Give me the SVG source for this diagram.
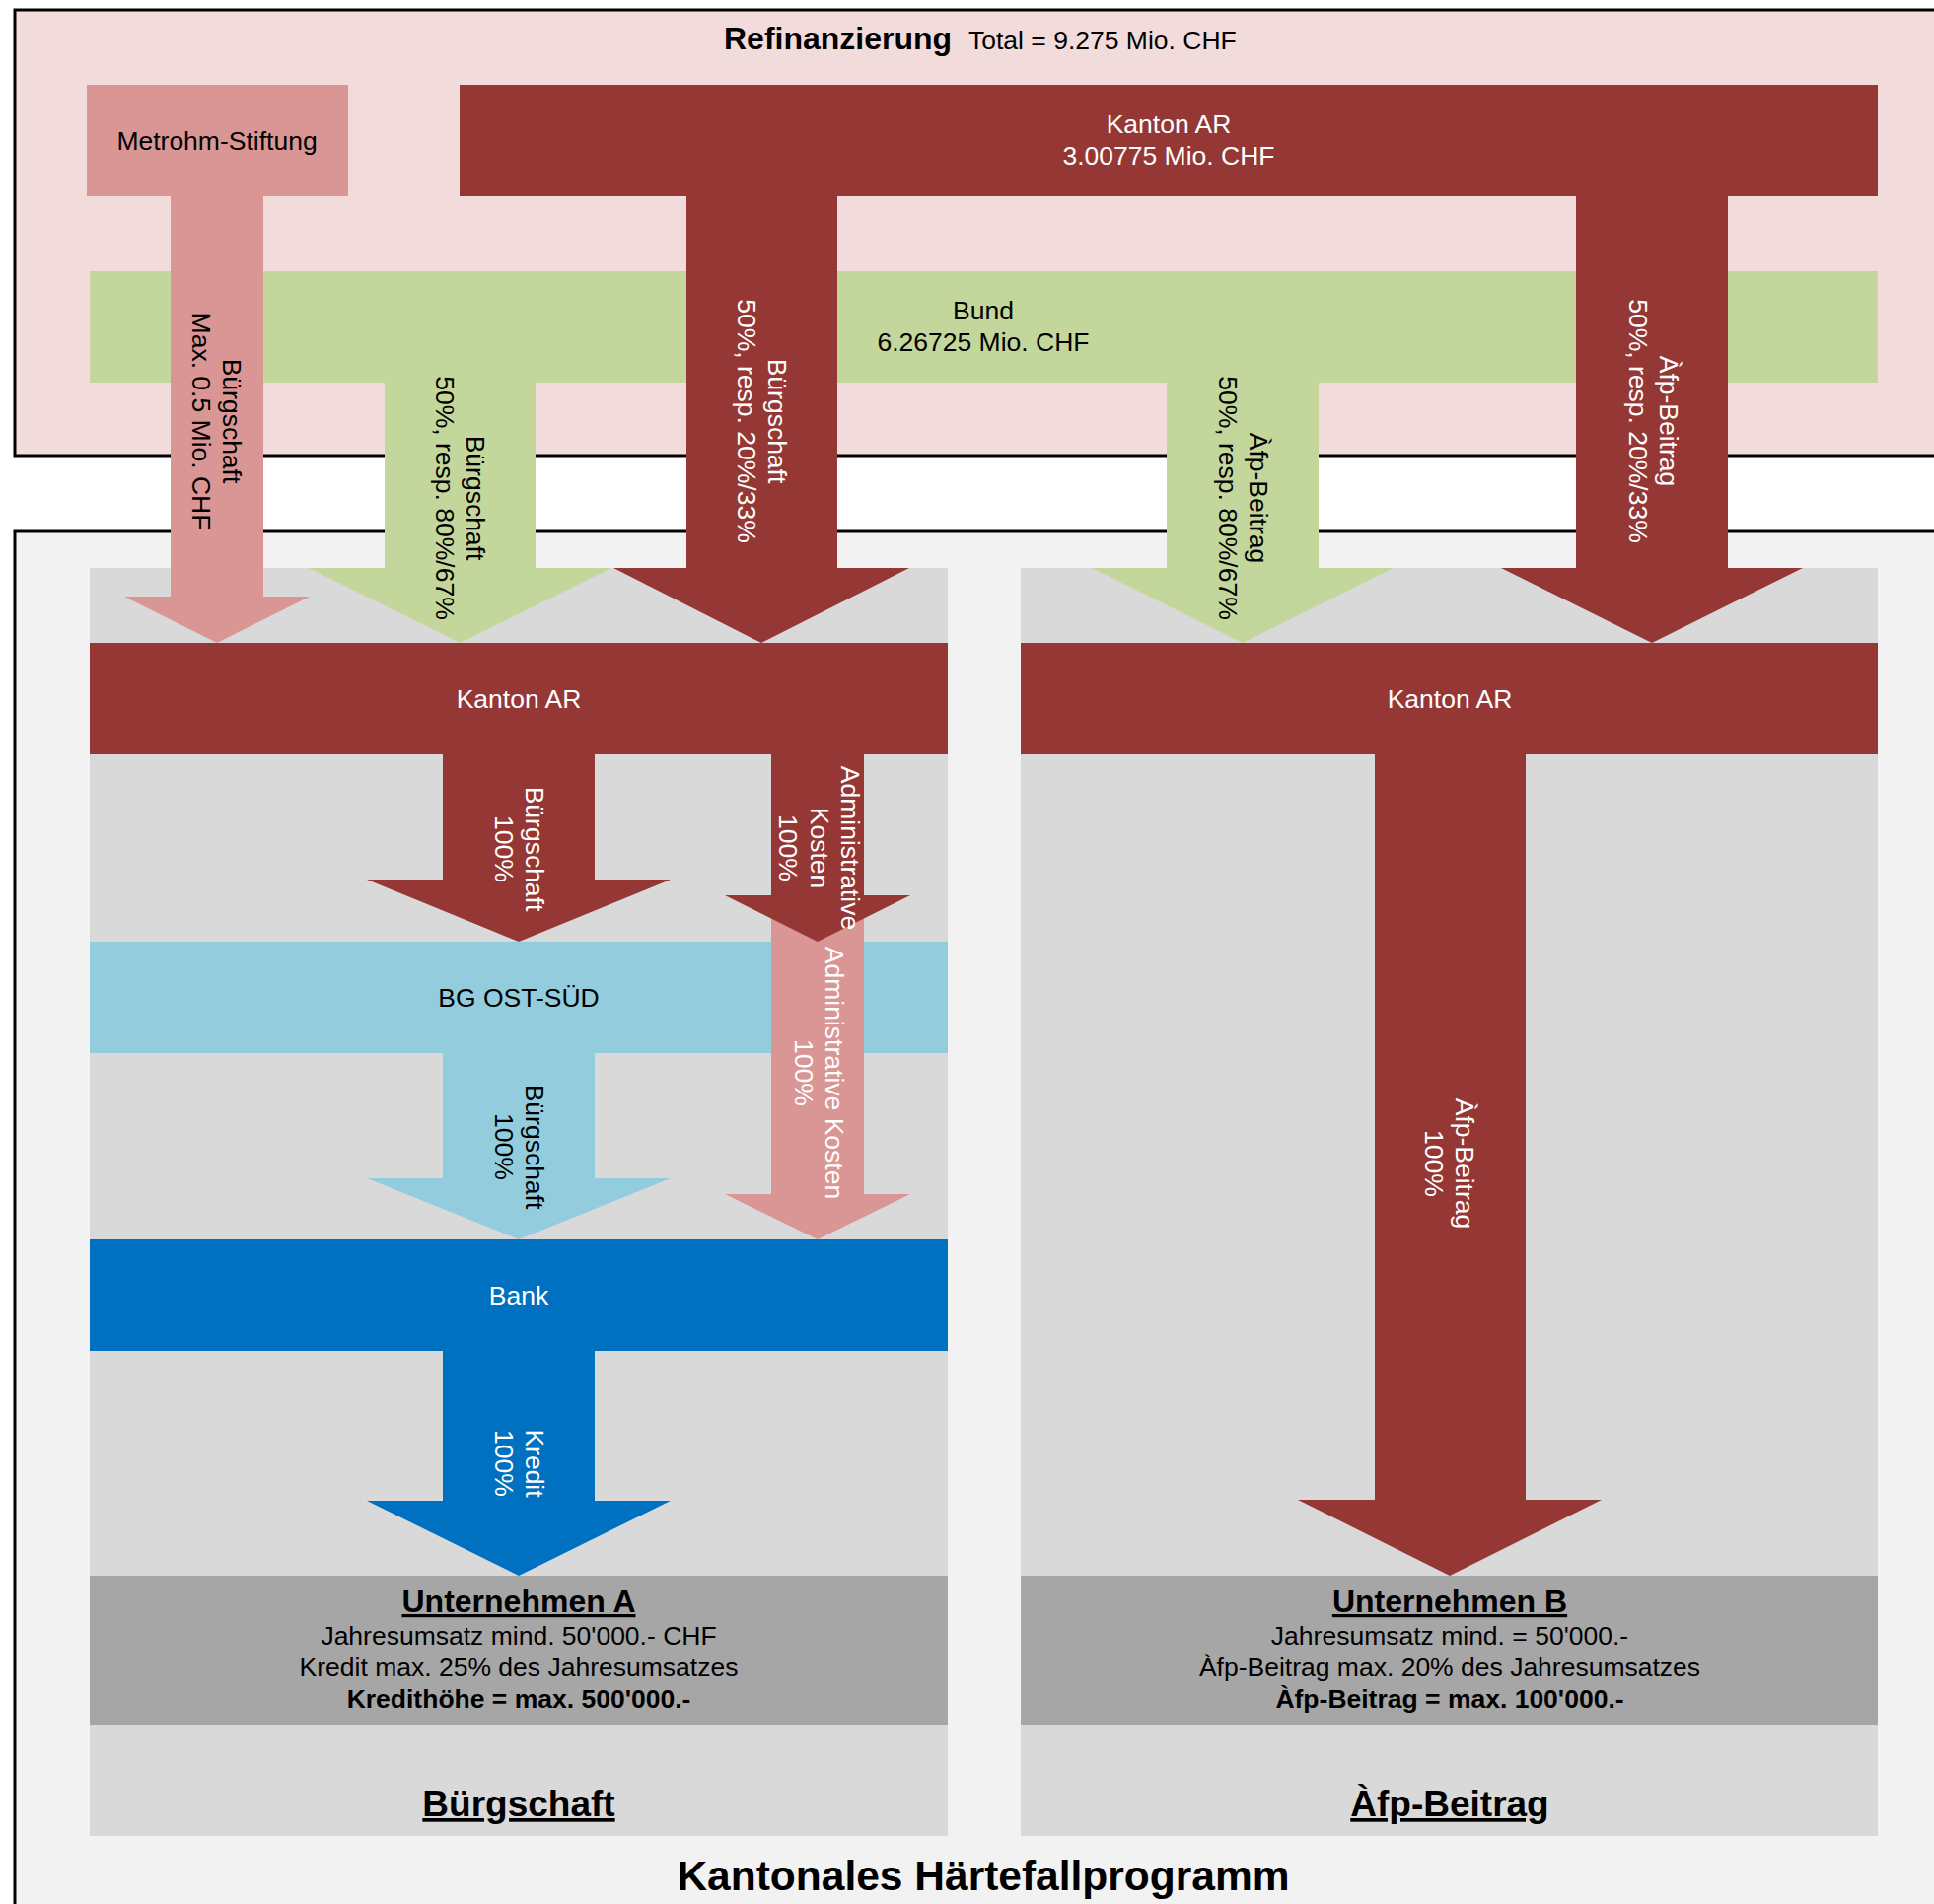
<svg xmlns="http://www.w3.org/2000/svg" width="1961" height="1931" viewBox="0 0 1961 1931">
<style>
text{font-family:"Liberation Sans",Arial,sans-serif;font-size:26.5px;text-anchor:middle;fill:#000}
.w{fill:#fff}
.b{font-weight:bold}
.u{text-decoration:underline}
.dr{fill:#953735}
.pk{fill:#D99694}
.gr{fill:#C3D69B}
.lb{fill:#93CDDD}
.bl{fill:#0070C0}
.pn{fill:#D9D9D9}
.ug{fill:#A6A6A6}
</style>
<g id="refinanzierung">
<rect x="15" y="10" width="2000" height="452" fill="#F2DCDB" stroke="#000" stroke-width="3"/>
<text x="734" y="50" class="b" style="font-size:32px;text-anchor:start">Refinanzierung</text>
<text x="982" y="50" style="text-anchor:start">Total = 9.275 Mio. CHF</text>
</g>
<g id="haertefallprogramm">
<rect x="15" y="539" width="2000" height="1450" fill="#F2F2F2" stroke="#000" stroke-width="3"/>
<text x="997" y="1917" class="b" style="font-size:42.5px">Kantonales Härtefallprogramm</text>
</g>
<g id="panel-buergschaft">
<rect class="pn" x="91" y="576" width="870" height="1286"/>
<text x="526" y="1842" class="b u" style="font-size:37px">Bürgschaft</text>
</g>
<g id="panel-afp">
<rect class="pn" x="1035" y="576" width="869" height="1286"/>
<text x="1470" y="1842" class="b u" style="font-size:37px">Àfp-Beitrag</text>
</g>
<g id="metrohm">
<rect class="pk" x="88" y="86" width="265" height="113"/>
<text x="220" y="152">Metrohm-Stiftung</text>
</g>
<g id="kanton-top">
<rect class="dr" x="466" y="86" width="1438" height="113"/>
<text x="1185" y="135" class="w">Kanton AR</text>
<text x="1185" y="167" class="w">3.00775 Mio. CHF</text>
</g>
<g id="bund">
<rect class="gr" x="91" y="275" width="1813" height="113"/>
<text x="997" y="324">Bund</text>
<text x="997" y="356">6.26725 Mio. CHF</text>
</g>
<g id="kanton-left">
<rect class="dr" x="91" y="652" width="870" height="113"/>
<text x="526" y="718" class="w">Kanton AR</text>
</g>
<g id="kanton-right">
<rect class="dr" x="1035" y="652" width="869" height="113"/>
<text x="1470" y="718" class="w">Kanton AR</text>
</g>
<g id="bg-ost-sued">
<rect class="lb" x="91" y="955" width="870" height="113"/>
<text x="526" y="1021">BG OST-SÜD</text>
</g>
<g id="bank">
<rect class="bl" x="91" y="1257" width="870" height="113"/>
<text x="526" y="1323" class="w">Bank</text>
</g>
<g id="unternehmen-a">
<rect class="ug" x="91" y="1598" width="870" height="151"/>
<text x="526" y="1635" class="b u" style="font-size:32px">Unternehmen A</text>
<text x="526" y="1668">Jahresumsatz mind. 50'000.- CHF</text>
<text x="526" y="1700">Kredit max. 25% des Jahresumsatzes</text>
<text x="526" y="1732" class="b">Kredithöhe = max. 500'000.-</text>
</g>
<g id="unternehmen-b">
<rect class="ug" x="1035" y="1598" width="869" height="151"/>
<text x="1470" y="1635" class="b u" style="font-size:32px">Unternehmen B</text>
<text x="1470" y="1668">Jahresumsatz mind. = 50'000.-</text>
<text x="1470" y="1700">Àfp-Beitrag max. 20% des Jahresumsatzes</text>
<text x="1470" y="1732" class="b">Àfp-Beitrag = max. 100'000.-</text>
</g>
<g id="connectors">
<polygon class="pk" points="173,199 267,199 267,605 314,605 220,652 126,605 173,605"/>
<polygon class="gr" points="390,388 543,388 543,576 620,576 466.5,652 313,576 390,576"/>
<polygon class="dr" points="696,199 849,199 849,576 922,576 772,652 622,576 696,576"/>
<polygon class="gr" points="1183,388 1337,388 1337,576 1413,576 1260,652 1107,576 1183,576"/>
<polygon class="dr" points="1598,199 1752,199 1752,576 1828,576 1675,652 1522,576 1598,576"/>
<polygon class="dr" points="449,765 603,765 603,892 680,892 526,955 372,892 449,892"/>
<polygon class="pk" points="782,908 876,908 876,1211 923,1211 829,1257 735,1211 782,1211"/>
<polygon class="dr" points="782,765 876,765 876,908 923,908 829,955 735,908 782,908"/>
<polygon class="lb" points="449,1068 603,1068 603,1195 680,1195 526,1257 372,1195 449,1195"/>
<polygon class="bl" points="449,1370 603,1370 603,1522 680,1522 526,1598 372,1522 449,1522"/>
<polygon class="dr" points="1394,765 1547,765 1547,1521 1624,1521 1470,1598 1316,1521 1394,1521"/>
<g transform="translate(220,427) rotate(90)"><text y="-6">Bürgschaft</text><text y="25">Max. 0.5 Mio. CHF</text></g>
<g transform="translate(467,505) rotate(90)"><text y="-6">Bürgschaft</text><text y="25">50%, resp. 80%/67%</text></g>
<g transform="translate(773,427) rotate(90)"><text y="-6" class="w">Bürgschaft</text><text y="25" class="w">50%, resp. 20%/33%</text></g>
<g transform="translate(1261,505) rotate(90)"><text y="-6">Àfp-Beitrag</text><text y="25">50%, resp. 80%/67%</text></g>
<g transform="translate(1677,427) rotate(90)"><text y="-6" class="w">Àfp-Beitrag</text><text y="25" class="w">50%, resp. 20%/33%</text></g>
<g transform="translate(527,861) rotate(90)"><text y="-6" class="w">Bürgschaft</text><text y="25" class="w">100%</text></g>
<g transform="translate(831,860) rotate(90)"><text y="-22" class="w">Administrative</text><text y="9.5" class="w">Kosten</text><text y="41" class="w">100%</text></g>
<g transform="translate(831,1088) rotate(90)"><text y="-6" class="w">Administrative Kosten</text><text y="25" class="w">100%</text></g>
<g transform="translate(527,1163) rotate(90)"><text y="-6">Bürgschaft</text><text y="25">100%</text></g>
<g transform="translate(527,1484) rotate(90)"><text y="-6" class="w">Kredit</text><text y="25" class="w">100%</text></g>
<g transform="translate(1470,1180) rotate(90)"><text y="-6" class="w">Àfp-Beitrag</text><text y="25" class="w">100%</text></g>
</g>
</svg>
